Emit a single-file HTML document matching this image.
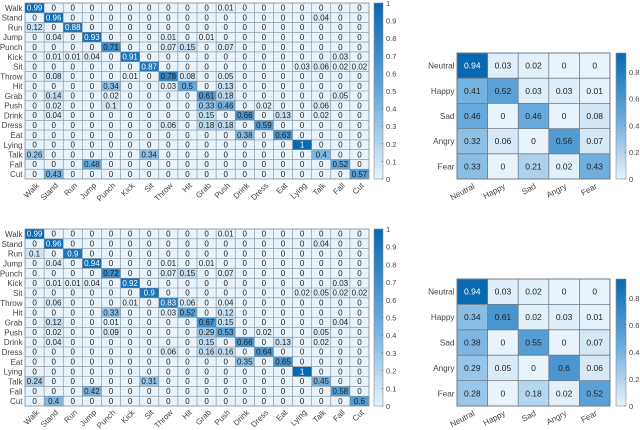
<!DOCTYPE html>
<html>
<head>
<meta charset="utf-8">
<title>Confusion matrices</title>
<style>
html,body{margin:0;padding:0;background:#fff}
svg{display:block;font-family:"Liberation Sans",Arial,sans-serif}
</style>
</head>
<body>
<svg id="chart" width="640" height="430" viewBox="0 0 640 430" xmlns="http://www.w3.org/2000/svg"></svg>
<script>
const actionLabels = ["Walk","Stand","Run","Jump","Punch","Kick","Sit","Throw","Hit","Grab","Push","Drink","Dress","Eat","Lying","Talk","Fall","Cut"];
const emotionLabels = ["Neutral","Happy","Sad","Angry","Fear"];
const actionTicks = [0,0.1,0.2,0.3,0.4,0.5,0.6,0.7,0.8,0.9,1];
const emotionTicks = [0,0.2,0.4,0.6,0.8];

const actionValuesTop = [
[.99,0,0,0,0,0,0,0,0,0,.01,0,0,0,0,0,0,0],
[0,.96,0,0,0,0,0,0,0,0,0,0,0,0,0,.04,0,0],
[.12,0,.88,0,0,0,0,0,0,0,0,0,0,0,0,0,0,0],
[0,.04,0,.93,0,0,0,.01,0,.01,0,0,0,0,0,0,0,0],
[0,0,0,0,.71,0,0,.07,.15,0,.07,0,0,0,0,0,0,0],
[0,.01,.01,.04,0,.91,0,0,0,0,0,0,0,0,0,0,.03,0],
[0,0,0,0,0,0,.87,0,0,0,0,0,0,0,.03,.06,.02,.02],
[0,.08,0,0,0,.01,0,.78,.08,0,.05,0,0,0,0,0,0,0],
[0,0,0,0,.34,0,0,.03,.5,0,.13,0,0,0,0,0,0,0],
[0,.14,0,0,.02,0,0,0,0,.61,.18,0,0,0,0,0,.05,0],
[0,.02,0,0,.1,0,0,0,0,.33,.46,0,.02,0,0,.06,0,0],
[0,.04,0,0,0,0,0,0,0,.15,0,.66,0,.13,0,.02,0,0],
[0,0,0,0,0,0,0,.06,0,.18,.18,0,.59,0,0,0,0,0],
[0,0,0,0,0,0,0,0,0,0,0,.38,0,.63,0,0,0,0],
[0,0,0,0,0,0,0,0,0,0,0,0,0,0,1,0,0,0],
[.26,0,0,0,0,0,.34,0,0,0,0,0,0,0,0,.4,0,0],
[0,0,0,.48,0,0,0,0,0,0,0,0,0,0,0,0,.52,0],
[0,.43,0,0,0,0,0,0,0,0,0,0,0,0,0,0,0,.57]
];
const actionValuesBottom = [
[.99,0,0,0,0,0,0,0,0,0,.01,0,0,0,0,0,0,0],
[0,.96,0,0,0,0,0,0,0,0,0,0,0,0,0,.04,0,0],
[.1,0,.9,0,0,0,0,0,0,0,0,0,0,0,0,0,0,0],
[0,.04,0,.94,0,0,0,.01,0,.01,0,0,0,0,0,0,0,0],
[0,0,0,0,.72,0,0,.07,.15,0,.07,0,0,0,0,0,0,0],
[0,.01,.01,.04,0,.92,0,0,0,0,0,0,0,0,0,0,.03,0],
[0,0,0,0,0,0,.9,0,0,0,0,0,0,0,.02,.05,.02,.02],
[0,.06,0,0,0,.01,0,.83,.06,0,.04,0,0,0,0,0,0,0],
[0,0,0,0,.33,0,0,.03,.52,0,.12,0,0,0,0,0,0,0],
[0,.12,0,0,.01,0,0,0,0,.67,.15,0,0,0,0,0,.04,0],
[0,.02,0,0,.09,0,0,0,0,.29,.53,0,.02,0,0,.05,0,0],
[0,.04,0,0,0,0,0,0,0,.15,0,.66,0,.13,0,.02,0,0],
[0,0,0,0,0,0,0,.06,0,.16,.16,0,.64,0,0,0,0,0],
[0,0,0,0,0,0,0,0,0,0,0,.35,0,.65,0,0,0,0],
[0,0,0,0,0,0,0,0,0,0,0,0,0,0,1,0,0,0],
[.24,0,0,0,0,0,.31,0,0,0,0,0,0,0,0,.45,0,0],
[0,0,0,.42,0,0,0,0,0,0,0,0,0,0,0,0,.58,0],
[0,.4,0,0,0,0,0,0,0,0,0,0,0,0,0,0,0,.6]
];
const emotionValuesTop = [
[.94,.03,.02,0,0],
[.41,.52,.03,.03,.01],
[.46,0,.46,0,.08],
[.32,.06,0,.56,.07],
[.33,0,.21,.02,.43]
];
const emotionValuesBottom = [
[.94,.03,.02,0,0],
[.34,.61,.02,.03,.01],
[.38,0,.55,0,.07],
[.29,.05,0,.6,.06],
[.28,0,.18,.02,.52]
];

const svg = document.getElementById('chart');
const NS = 'http://www.w3.org/2000/svg';

function make(tag, attrs, parent) {
  const el = document.createElementNS(NS, tag);
  for (const k in attrs) el.setAttribute(k, attrs[k]);
  parent.appendChild(el);
  return el;
}

const stops = [[232,243,251],[100,168,220],[8,104,178]];
function colorAt(t) {
  const c = Math.max(0, Math.min(1, t)) * (stops.length - 1);
  const i = Math.min(stops.length - 2, Math.floor(c));
  const f = c - i;
  const rgb = stops[i].map((s, k) => Math.round(s + (stops[i + 1][k] - s) * f));
  return 'rgb(' + rgb.join(',') + ')';
}

let gradId = 0;
function drawPanel(p) {
  const n = p.labels.length;
  const group = make('g', {}, svg);
  
  
  const xScale = i => p.x0 + (p.x1 - p.x0) * i / n;
  const yScale = i => p.y0 + (p.y1 - p.y0) * i / n;
  const cw = (p.x1 - p.x0) / n;
  const ch = (p.y1 - p.y0) / n;
  const cScale = v => v / p.cmax;

  p.values.forEach((row, r) => {
    row.forEach((v, c) => {
      const cell = make('rect', {x: xScale(c), y: yScale(r), width: cw + 0.1, height: ch + 0.1, fill: colorAt(cScale(v))}, group);
      
      
    });
  });

  for (let i = 1; i < n; i++) {
    const vLine = make('line', {x1: xScale(i), x2: xScale(i), y1: p.y0, y2: p.y1, stroke: p.gridColor, 'stroke-width': p.gridWidth}, group);
    
    
    const hLine = make('line', {x1: p.x0, x2: p.x1, y1: yScale(i), y2: yScale(i), stroke: p.gridColor, 'stroke-width': p.gridWidth}, group);
    
    
  }
  const frame = make('rect', {x: p.x0, y: p.y0, width: p.x1 - p.x0, height: p.y1 - p.y0, fill: 'none', stroke: p.gridColor, 'stroke-width': p.gridWidth + 0.2}, group);
  
  

  p.values.forEach((row, r) => {
    row.forEach((v, c) => {
      const t = make('text', {
        x: xScale(c) + cw / 2, y: yScale(r) + ch / 2 + p.valueSize * 0.35,
        'text-anchor': 'middle', 'font-size': p.valueSize,
        fill: cScale(v) > 0.78 ? '#fff' : '#222'
      }, group);
      t.textContent = String(v);
      
      
    });
  });

  p.labels.forEach((label, i) => {
    const yl = make('text', {x: p.x0 - 2.5, y: yScale(i) + ch / 2 + 3, 'text-anchor': 'end', 'font-size': p.labelSize, fill: '#444'}, group);
    yl.textContent = label;
    
    
    const ax = xScale(i) + cw / 2 + p.xLabelDx;
    const ay = p.y1 + p.xLabelDy;
    const xl = make('text', {x: ax, y: ay, 'text-anchor': 'end', 'font-size': p.labelSize, fill: '#444', transform: 'rotate(' + (-p.xLabelAngle) + ' ' + ax + ' ' + ay + ')'}, group);
    xl.textContent = label;
    
    
  });

  const id = 'grad' + (gradId++);
  const grad = make('linearGradient', {id: id, x1: 0, y1: 1, x2: 0, y2: 0}, group);
  stops.forEach((s, i) => {
    make('stop', {offset: i / (stops.length - 1), 'stop-color': 'rgb(' + s.join(',') + ')'}, grad);
  });
  const bar = make('rect', {x: p.cbX0, y: p.y0, width: p.cbX1 - p.cbX0, height: p.y1 - p.y0, fill: 'url(#' + id + ')', stroke: '#8a8f94', 'stroke-width': 0.6}, group);
  
  
  const cbScale = v => p.y1 - (p.y1 - p.y0) * v / p.cmax;
  p.ticks.forEach(v => {
    const tick = make('line', {x1: p.cbX1 - 1.5, x2: p.cbX1, y1: cbScale(v), y2: cbScale(v), stroke: '#666', 'stroke-width': 0.6}, group);
    
    
    const tl = make('text', {x: p.cbX1 + 3, y: cbScale(v) + 3, 'font-size': p.tickSize, fill: '#444'}, group);
    tl.textContent = String(v);
    
    
  });
}

const bigLayout = {labels: actionLabels, x0: 25, x1: 369, cbX0: 374, cbX1: 383, cmax: 1, ticks: actionTicks, valueSize: 8, labelSize: 8, tickSize: 7.5, gridColor: '#7f8c96', gridWidth: 0.6, xLabelDx: 5, xLabelDy: 7, xLabelAngle: 45};
const smallLayout = {labels: emotionLabels, x0: 457, x1: 610, cbX0: 616, cbX1: 626, cmax: 0.94, ticks: emotionTicks, valueSize: 8.5, labelSize: 8.2, tickSize: 7.5, gridColor: '#6f7b85', gridWidth: 0.8, xLabelDx: 3, xLabelDy: 9, xLabelAngle: 28};

drawPanel(Object.assign({}, bigLayout, {name: 'action-matrix-top', values: actionValuesTop, y0: 3, y1: 179}));
drawPanel(Object.assign({}, bigLayout, {name: 'action-matrix-bottom', values: actionValuesBottom, y0: 229, y1: 406}));
drawPanel(Object.assign({}, smallLayout, {name: 'emotion-matrix-top', values: emotionValuesTop, y0: 53, y1: 179}));
drawPanel(Object.assign({}, smallLayout, {name: 'emotion-matrix-bottom', values: emotionValuesBottom, y0: 279, y1: 406}));
</script>
</body>
</html>
